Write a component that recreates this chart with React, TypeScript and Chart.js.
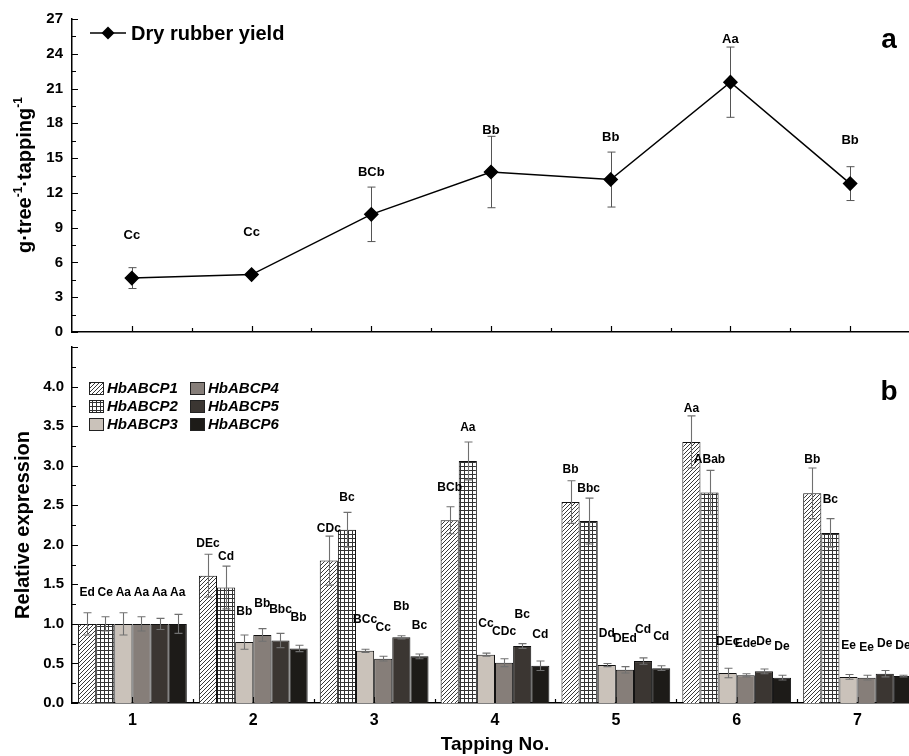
import React, { useEffect, useRef } from 'react';
import { Chart, registerables } from 'chart.js';

Chart.register(...registerables);

const FONT = '"Liberation Sans", Arial, sans-serif';
const NARROW = '"Liberation Sans Narrow", "Liberation Sans", Arial, sans-serif';

// ---------- Data ----------
const tappings = ['1', '2', '3', '4', '5', '6', '7'];

// Panel a: dry rubber yield
const yieldLabel = 'Dry rubber yield';
const yieldMean = [4.65, 4.95, 10.15, 13.8, 13.15, 21.55, 12.8];
const yieldErr = [0.9, 0.15, 2.35, 3.08, 2.37, 3.03, 1.46];
const yieldLetters = ['Cc', 'Cc', 'BCb', 'Bb', 'Bb', 'Aa', 'Bb'];
const yieldLetterAt = [8.3, 8.6, 13.8, 17.4, 16.8, 25.2, 16.5];
const yieldTicks = { min: 0, max: 27, step: 3 };

// Panel b: relative expression
const geneNames = ['HbABCP1', 'HbABCP2', 'HbABCP3', 'HbABCP4', 'HbABCP5', 'HbABCP6'];
const p1 = [1.0, 1.61, 1.8, 2.31, 2.54, 3.3, 2.65];
const p2 = [1.0, 1.46, 2.19, 3.06, 2.3, 2.66, 2.15];
const p3 = [1.0, 0.77, 0.66, 0.61, 0.48, 0.38, 0.33];
const p4 = [1.0, 0.86, 0.56, 0.51, 0.42, 0.35, 0.32];
const p5 = [1.0, 0.79, 0.83, 0.72, 0.53, 0.4, 0.37];
const p6 = [1.0, 0.69, 0.59, 0.47, 0.44, 0.32, 0.34];

const p1Err = [0.14, 0.27, 0.31, 0.17, 0.27, 0.33, 0.32];
const p2Err = [0.09, 0.27, 0.22, 0.24, 0.29, 0.28, 0.18];
const p3Err = [0.14, 0.09, 0.02, 0.02, 0.02, 0.06, 0.03];
const p4Err = [0.09, 0.08, 0.03, 0.05, 0.04, 0.02, 0.03];
const p5Err = [0.07, 0.09, 0.02, 0.03, 0.04, 0.03, 0.04];
const p6Err = [0.12, 0.04, 0.03, 0.06, 0.03, 0.03, 0.01];

const p1Letters = ['Ed', 'DEc', 'CDc', 'BCb', 'Bb', 'Aa', 'Bb'];
const p2Letters = ['Ce', 'Cd', 'Bc', 'Aa', 'Bbc', 'ABab', 'Bc'];
const p3Letters = ['Aa', 'Bb', 'BCc', 'Cc', 'Dd', 'DEc', 'Ee'];
const p4Letters = ['Aa', 'Bb', 'Cc', 'CDc', 'DEd', 'Ede', 'Ee'];
const p5Letters = ['Aa', 'Bbc', 'Bb', 'Bc', 'Cd', 'De', 'De'];
const p6Letters = ['Aa', 'Bb', 'Bc', 'Cd', 'Cd', 'De', 'De'];

const p1LetterAt = [1.4, 2.01, 2.2, 2.72, 2.95, 3.72, 3.07];
const p2LetterAt = [1.4, 1.85, 2.6, 3.48, 2.71, 3.07, 2.57];
const p3LetterAt = [1.4, 1.15, 1.05, 1.0, 0.87, 0.77, 0.72];
const p4LetterAt = [1.4, 1.25, 0.95, 0.9, 0.81, 0.75, 0.7];
const p5LetterAt = [1.4, 1.18, 1.22, 1.11, 0.93, 0.78, 0.75];
const p6LetterAt = [1.4, 1.08, 0.98, 0.86, 0.84, 0.71, 0.72];

const exprTicks = { min: 0, max: 4.5, step: 0.5, lastLabel: 4.0 };

const geneValues = [p1, p2, p3, p4, p5, p6];
const geneErrs = [p1Err, p2Err, p3Err, p4Err, p5Err, p6Err];
const geneLetters = [p1Letters, p2Letters, p3Letters, p4Letters, p5Letters, p6Letters];
const geneLetterAt = [p1LetterAt, p2LetterAt, p3LetterAt, p4LetterAt, p5LetterAt, p6LetterAt];

// ---------- Styles ----------
function makeHatch(): CanvasPattern | string {
  const c = document.createElement('canvas');
  c.width = 4;
  c.height = 4;
  const g = c.getContext('2d');
  if (!g) return '#fff';
  g.fillStyle = '#fff';
  g.fillRect(0, 0, 4, 4);
  g.strokeStyle = '#222';
  g.lineWidth = 0.9;
  g.beginPath();
  g.moveTo(0, 4); g.lineTo(4, 0);
  g.moveTo(-1, 1); g.lineTo(1, -1);
  g.moveTo(3, 5); g.lineTo(5, 3);
  g.stroke();
  return g.createPattern(c, 'repeat') || '#fff';
}

function makeGrid(): CanvasPattern | string {
  const c = document.createElement('canvas');
  c.width = 4;
  c.height = 4;
  const g = c.getContext('2d');
  if (!g) return '#fff';
  g.fillStyle = '#fff';
  g.fillRect(0, 0, 4, 4);
  g.fillStyle = '#333';
  g.fillRect(0, 0, 4, 1);
  g.fillRect(0, 0, 1, 4);
  return g.createPattern(c, 'repeat') || '#fff';
}

const solidColors = ['#cac2ba', '#867e79', '#3b3632', '#1d1b18'];

function drawInwardTicks(chart: any, yStep: number, drawX: boolean, drawY: boolean) {
  const { ctx, chartArea, scales } = chart;
  const x = scales.x;
  const y = scales.y;
  ctx.save();
  ctx.strokeStyle = '#000';
  ctx.lineWidth = 1.2;
  ctx.beginPath();
  if (drawY) {
    const min = y.min;
    const max = y.max;
    const half = yStep / 2;
    for (let v = min; v <= max + 1e-9; v += half) {
      const py = Math.round(y.getPixelForValue(v)) + 0.5;
      const isMajor = Math.abs(Math.round(v / yStep) * yStep - v) < 1e-6;
      const len = isMajor ? 6 : 4;
      ctx.moveTo(chartArea.left, py);
      ctx.lineTo(chartArea.left + len, py);
    }
  }
  if (drawX) {
    const n = chart.data.labels.length;
    for (let i = 0; i < n; i++) {
      const px = Math.round(x.getPixelForValue(i)) + 0.5;
      ctx.moveTo(px, chartArea.bottom);
      ctx.lineTo(px, chartArea.bottom - 6);
      if (i < n - 1) {
        const mid = Math.round((x.getPixelForValue(i) + x.getPixelForValue(i + 1)) / 2) + 0.5;
        ctx.moveTo(mid, chartArea.bottom);
        ctx.lineTo(mid, chartArea.bottom - 4);
      }
    }
  }
  ctx.stroke();
  ctx.restore();
}

const topPlugin = {
  id: 'topDecor',
  beforeDatasetsDraw(chart: any) {
    const { ctx, scales } = chart;
    const x = scales.x;
    const y = scales.y;
    ctx.save();
    ctx.strokeStyle = '#555';
    ctx.lineWidth = 1;
    ctx.beginPath();
    yieldMean.forEach((m, i) => {
      const px = Math.round(x.getPixelForValue(i)) + 0.5;
      const top = y.getPixelForValue(m + yieldErr[i]);
      const bot = y.getPixelForValue(m - yieldErr[i]);
      ctx.moveTo(px, top); ctx.lineTo(px, bot);
      ctx.moveTo(px - 4, top); ctx.lineTo(px + 4, top);
      ctx.moveTo(px - 4, bot); ctx.lineTo(px + 4, bot);
    });
    ctx.stroke();
    ctx.restore();
  },
  afterDraw(chart: any) {
    const { ctx, scales, chartArea } = chart;
    const x = scales.x;
    const y = scales.y;
    drawInwardTicks(chart, yieldTicks.step, true, true);

    ctx.save();
    ctx.fillStyle = '#000';
    // significance letters
    ctx.font = `bold 13px ${FONT}`;
    ctx.textAlign = 'center';
    ctx.textBaseline = 'middle';
    yieldLetters.forEach((t, i) => {
      ctx.fillText(t, x.getPixelForValue(i), y.getPixelForValue(yieldLetterAt[i]));
    });

    // legend
    const ly = chartArea.top + 14;
    const lx = chartArea.left + 18;
    ctx.strokeStyle = '#000';
    ctx.lineWidth = 1.5;
    ctx.beginPath();
    ctx.moveTo(lx, ly);
    ctx.lineTo(lx + 36, ly);
    ctx.stroke();
    ctx.beginPath();
    const cx = lx + 18;
    const r = 6.5;
    ctx.moveTo(cx - r, ly); ctx.lineTo(cx, ly - r); ctx.lineTo(cx + r, ly); ctx.lineTo(cx, ly + r);
    ctx.closePath();
    ctx.fill();
    ctx.font = `bold 20px ${FONT}`;
    ctx.textAlign = 'left';
    ctx.fillText(yieldLabel, lx + 41, ly + 1);

    // panel letter
    ctx.font = `bold 28px ${FONT}`;
    ctx.textAlign = 'center';
    ctx.fillText('a', 889, 40);

    // y title with superscripts
    const parts = [
      { t: 'g·tree', big: true },
      { t: '-1', big: false },
      { t: '·tapping', big: true },
      { t: '-1', big: false },
    ];
    ctx.translate(31, 175);
    ctx.rotate(-Math.PI / 2);
    let total = 0;
    const widths: number[] = [];
    parts.forEach((p) => {
      ctx.font = p.big ? `bold 20px ${FONT}` : `bold 12px ${FONT}`;
      const w = ctx.measureText(p.t).width;
      widths.push(w);
      total += w;
    });
    let xx = -total / 2;
    ctx.textAlign = 'left';
    ctx.textBaseline = 'alphabetic';
    parts.forEach((p, i) => {
      ctx.font = p.big ? `bold 20px ${FONT}` : `bold 12px ${FONT}`;
      ctx.fillText(p.t, xx, p.big ? 0 : -9);
      xx += widths[i];
    });
    ctx.restore();
  },
};

const bottomPlugin = {
  id: 'bottomDecor',
  beforeDatasetsDraw(chart: any) {
    drawInwardTicks(chart, exprTicks.step, true, false);
  },
  afterDatasetsDraw(chart: any) {
    const { ctx, scales } = chart;
    const y = scales.y;
    ctx.save();
    ctx.strokeStyle = '#707070';
    ctx.lineWidth = 1.1;
    ctx.beginPath();
    geneValues.forEach((vals, di) => {
      const meta = chart.getDatasetMeta(di);
      vals.forEach((v, i) => {
        const bar = meta.data[i];
        const px = Math.round(bar.x) + 0.5;
        const top = y.getPixelForValue(v + geneErrs[di][i]);
        const bot = y.getPixelForValue(v - geneErrs[di][i]);
        ctx.moveTo(px, top); ctx.lineTo(px, bot);
        ctx.moveTo(px - 4, top); ctx.lineTo(px + 4, top);
        ctx.moveTo(px - 4, bot); ctx.lineTo(px + 4, bot);
      });
    });
    ctx.stroke();

    ctx.fillStyle = '#000';
    ctx.font = `bold 12px ${FONT}`;
    ctx.textAlign = 'center';
    ctx.textBaseline = 'middle';
    geneLetters.forEach((letters, di) => {
      const meta = chart.getDatasetMeta(di);
      letters.forEach((t, i) => {
        const bar = meta.data[i];
        ctx.fillText(t, bar.x, y.getPixelForValue(geneLetterAt[di][i]));
      });
    });
    ctx.restore();
  },
  afterDraw(chart: any) {
    const { ctx, chartArea } = chart;
    drawInwardTicks(chart, exprTicks.step, false, true);
    ctx.save();
    // legend: 2 columns x 3 rows
    const datasets = chart.data.datasets;
    const colX = [chartArea.left + 17, chartArea.left + 118];
    const rowY = [chartArea.top + 41, chartArea.top + 59, chartArea.top + 77];
    datasets.forEach((ds: any, i: number) => {
      const col = Math.floor(i / 3);
      const row = i % 3;
      const bx = colX[col];
      const by = rowY[row];
      ctx.fillStyle = ds.backgroundColor;
      ctx.fillRect(bx, by - 6, 14, 12);
      ctx.strokeStyle = '#222';
      ctx.lineWidth = 1;
      ctx.strokeRect(bx + 0.5, by - 5.5, 14, 12);
      ctx.fillStyle = '#000';
      ctx.font = `italic bold 15px ${FONT}`;
      ctx.textAlign = 'left';
      ctx.textBaseline = 'middle';
      ctx.fillText(ds.label, bx + 18, by + 1);
    });
    ctx.font = `bold 28px ${FONT}`;
    ctx.textAlign = 'center';
    ctx.textBaseline = 'middle';
    ctx.fillStyle = '#000';
    ctx.fillText('b', 889, 62);
    ctx.restore();
  },
};

export default function App() {
  const topRef = useRef<HTMLCanvasElement | null>(null);
  const botRef = useRef<HTMLCanvasElement | null>(null);

  useEffect(() => {
    if (!topRef.current || !botRef.current) return;
    const tickFont = { family: FONT, size: 15, weight: 'bold' as const };

    const topChart = new Chart(topRef.current, {
      type: 'line',
      data: {
        labels: tappings,
        datasets: [
          {
            label: yieldLabel,
            data: yieldMean,
            borderColor: '#000',
            borderWidth: 1.5,
            pointStyle: 'rectRot',
            pointRadius: 6.5,
            pointBackgroundColor: '#000',
            pointBorderColor: '#000',
            tension: 0,
          },
        ],
      },
      options: {
        responsive: false,
        animation: false,
        layout: { padding: { top: 19, left: 0, right: 0, bottom: 7 } },
        plugins: { legend: { display: false }, tooltip: { enabled: false } },
        scales: {
          x: {
            offset: true,
            grid: { display: false, drawTicks: false },
            border: { display: true, color: '#000', width: 1.5 },
            ticks: { display: false },
            afterFit: (s: any) => { s.height = 0; },
          },
          y: {
            min: yieldTicks.min,
            max: yieldTicks.max,
            ticks: { stepSize: yieldTicks.step, font: tickFont, color: '#000', padding: 9 },
            grid: { display: false, drawTicks: false },
            border: { display: true, color: '#000', width: 1.5 },
            afterFit: (s: any) => { s.width = 72; },
          },
        },
      },
      plugins: [topPlugin],
    } as any);

    const hatch = makeHatch();
    const grid = makeGrid();
    const fills = [hatch, grid, ...solidColors];

    const botChart = new Chart(botRef.current, {
      type: 'bar',
      data: {
        labels: tappings,
        datasets: geneNames.map((name, i) => ({
          label: name,
          data: geneValues[i],
          backgroundColor: fills[i],
          borderColor: '#111',
          borderWidth: 1,
          categoryPercentage: 0.9,
          barPercentage: 1.0,
        })),
      },
      options: {
        responsive: false,
        animation: false,
        layout: { padding: { top: 13, left: 0, right: 0, bottom: 0 } },
        plugins: { legend: { display: false }, tooltip: { enabled: false } },
        scales: {
          x: {
            grid: { display: false, drawTicks: false },
            border: { display: true, color: '#000', width: 1.5 },
            ticks: { font: { family: NARROW, size: 16, weight: 'bold' }, color: '#000', padding: 8 },
            title: {
              display: true,
              text: 'Tapping No.',
              font: { family: NARROW, size: 19, weight: 'bold' },
              color: '#000',
              padding: { top: 0, bottom: 0 },
            },
            afterFit: (s: any) => { s.height = 53; },
          },
          y: {
            min: exprTicks.min,
            max: exprTicks.max,
            ticks: {
              stepSize: exprTicks.step,
              font: tickFont,
              color: '#000',
              padding: 8,
              callback: (v: any) => (Number(v) > exprTicks.lastLabel + 0.01 ? '' : Number(v).toFixed(1)),
            },
            grid: { display: false, drawTicks: false },
            border: { display: true, color: '#000', width: 1.5 },
            title: {
              display: true,
              text: 'Relative expression',
              font: { family: FONT, size: 20, weight: 'bold' },
              color: '#000',
              padding: { top: 11, bottom: 0 },
            },
            afterFit: (s: any) => { s.width = 72; },
          },
        },
      },
      plugins: [bottomPlugin],
    } as any);

    return () => {
      topChart.destroy();
      botChart.destroy();
    };
  }, []);

  return (
    <div
      style={{
        position: 'fixed',
        left: 0,
        top: 0,
        width: 909,
        height: 756,
        overflow: 'hidden',
        background: '#fff',
      }}
    >
      <canvas
        ref={topRef}
        width={918}
        height={350}
        style={{ position: 'absolute', left: 0, top: 0, width: 918, height: 350 }}
      />
      <canvas
        ref={botRef}
        width={918}
        height={426}
        style={{ position: 'absolute', left: 0, top: 330, width: 918, height: 426 }}
      />
    </div>
  );
}
